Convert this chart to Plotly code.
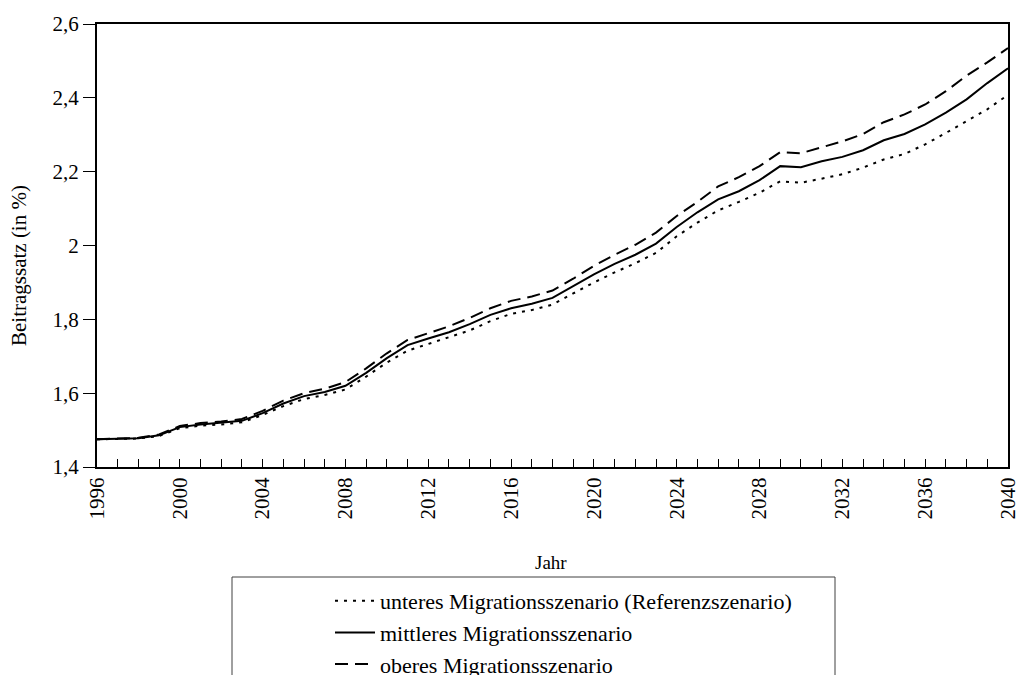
import plotly.graph_objects as go

years = list(range(1996, 2041))

unteres = [1.475, 1.475, 1.477, 1.484, 1.505, 1.512, 1.515, 1.521, 1.541, 1.565,
           1.584, 1.595, 1.610, 1.645, 1.683, 1.715, 1.733, 1.750, 1.770, 1.795,
           1.815, 1.825, 1.840, 1.870, 1.900, 1.927, 1.952, 1.980, 2.025, 2.062,
           2.095, 2.118, 2.143, 2.174, 2.170, 2.181, 2.193, 2.211, 2.233, 2.248,
           2.274, 2.305, 2.337, 2.369, 2.408]

mittleres = [1.475, 1.476, 1.478, 1.486, 1.508, 1.515, 1.519, 1.525, 1.546, 1.572,
             1.592, 1.603, 1.620, 1.655, 1.695, 1.730, 1.748, 1.765, 1.787, 1.812,
             1.830, 1.842, 1.858, 1.890, 1.922, 1.950, 1.975, 2.005, 2.050, 2.090,
             2.125, 2.147, 2.177, 2.215, 2.212, 2.228, 2.240, 2.258, 2.285, 2.302,
             2.328, 2.360, 2.396, 2.440, 2.480]

oberes = [1.475, 1.477, 1.479, 1.488, 1.511, 1.519, 1.523, 1.530, 1.552, 1.580,
          1.600, 1.612, 1.630, 1.667, 1.708, 1.744, 1.763, 1.781, 1.804, 1.830,
          1.850, 1.862, 1.878, 1.910, 1.945, 1.975, 2.002, 2.035, 2.080, 2.118,
          2.160, 2.185, 2.215, 2.253, 2.250, 2.266, 2.282, 2.302, 2.334, 2.355,
          2.382, 2.418, 2.460, 2.496, 2.535]

series_names = ["unteres Migrationsszenario (Referenzszenario)",
                "mittleres Migrationsszenario",
                "oberes Migrationsszenario"]

y_tickvals = [1.4, 1.6, 1.8, 2.0, 2.2, 2.4, 2.6]
y_ticktext = ["1,4", "1,6", "1,8", "2", "2,2", "2,4", "2,6"]
x_tickvals = list(range(1996, 2041, 4))
x_ticktext = [str(v) for v in x_tickvals]

x_title = "Jahr"
y_title = "Beitragssatz (in %)"

FONT = "Liberation Serif, Times New Roman, serif"

fig = go.Figure()
styles = ["3px,6px", "solid", "13px,7px"]
for i, (name, vals, dash) in enumerate(zip(series_names, [unteres, mittleres, oberes], styles)):
    fig.add_trace(go.Scatter(
        x=years, y=vals, mode="lines", name=name,
        line=dict(color="black", width=2, dash=dash),
    ))

W, H = 1017, 675
L, R, T, B = 97, 9, 24, 208
pw = W - L - R
ph = H - T - B

def px_x(p):
    return (p - L) / pw

def px_y(p):
    return (H - B - p) / ph

fig.add_shape(type="rect", xref="paper", yref="paper",
              x0=px_x(232), x1=px_x(835), y0=px_y(577), y1=px_y(700),
              line=dict(color="#404040", width=1), fillcolor="rgba(0,0,0,0)")

fig.add_annotation(text=x_title, xref="paper", yref="paper",
                   x=px_x(551), y=px_y(562), xanchor="center", yanchor="middle",
                   showarrow=False, font=dict(family=FONT, size=19, color="black"))
fig.add_annotation(text=y_title, xref="paper", yref="paper",
                   x=px_x(19), y=px_y(266), xanchor="center", yanchor="middle",
                   textangle=-90, showarrow=False,
                   font=dict(family=FONT, size=21, color="black"))

fig.update_layout(
    width=W, height=H,
    margin=dict(l=L, r=R, t=T, b=B, autoexpand=False),
    paper_bgcolor="white", plot_bgcolor="white",
    font=dict(family=FONT, color="black", size=19),
    showlegend=True,
    legend=dict(
        x=px_x(330), y=px_y(580), xanchor="left", yanchor="top",
        font=dict(family=FONT, size=22, color="black"),
        bgcolor="rgba(0,0,0,0)", borderwidth=0,
        tracegroupgap=0,
        itemwidth=40,
    ),
    xaxis=dict(
        range=[1996, 2040],
        tickvals=x_tickvals, ticktext=x_ticktext,
        tickangle=-90,
        ticks="inside", ticklen=8, tickwidth=1, tickcolor="black",
        minor=dict(dtick=1, tick0=1996, ticks="inside", ticklen=8, tickwidth=1, tickcolor="black"),
        showline=True, linecolor="black", linewidth=2, mirror=True,
        showgrid=False, zeroline=False,
        ticklabeloverflow="allow",
        tickfont=dict(family=FONT, size=21, color="black"),
    ),
    yaxis=dict(
        range=[1.4, 2.6],
        tickvals=y_tickvals, ticktext=y_ticktext,
        ticks="outside", ticklen=12, tickwidth=1, tickcolor="black",
        showline=True, linecolor="black", linewidth=2, mirror=True,
        showgrid=False, zeroline=False,
        tickfont=dict(family=FONT, size=21, color="black"),
    ),
)

fig.write_html("out.html", config={"displayModeBar": False},
               post_script="document.body.style.margin='0';")
